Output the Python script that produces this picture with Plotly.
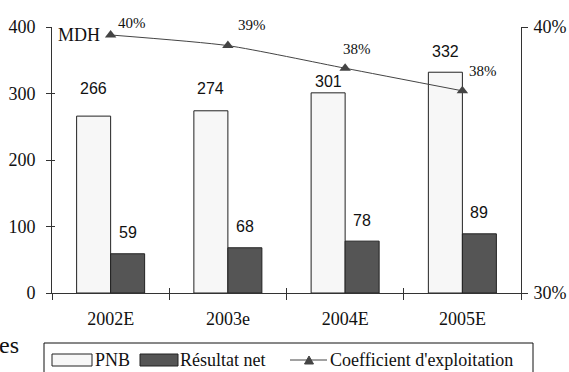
import plotly.graph_objects as go

# Data
years = ["2002E", "2003e", "2004E", "2005E"]
pnb = [266, 274, 301, 332]
resultat_net = [59, 68, 78, 89]
coef_exploitation = [39.7, 39.3, 38.45, 37.6]

# Label placement (pixels above each bar top / beside each marker)
pnb_label_lift = [28, 22, 11, 21]
res_label_lift = [21, 21, 21, 21]
pct_label_shift = [(21, 12), (24, 21), (12, 19), (21, 20)]

SERIF = "Liberation Serif, Times New Roman, serif"
SANS = "Liberation Sans, Arial, sans-serif"
INK = "#222222"
AXIS = "#333333"

W, H = 569, 372
L, R, T, B = 52, 521, 27, 293


def px(x):
    return (x - L) / (R - L)


def py(y):
    return (B - y) / (B - T)


fig = go.Figure()

fig.add_trace(go.Bar(
    x=years, y=pnb, name="PNB",
    marker=dict(color="#f7f7f7", line=dict(color=INK, width=1)),
    showlegend=False,
))
fig.add_trace(go.Bar(
    x=years, y=resultat_net, name="Résultat net",
    marker=dict(color="#555555", line=dict(color=INK, width=1)),
    showlegend=False,
))
fig.add_trace(go.Scatter(
    x=years, y=coef_exploitation, name="Coefficient d'exploitation",
    yaxis="y2", mode="lines+markers",
    line=dict(color="#444444", width=1, shape="spline", smoothing=0.6),
    marker=dict(symbol="triangle-up", size=10, color="#444444"),
    showlegend=False,
))
# Empty traces that carry the inner half of the crossing tick marks
fig.add_trace(go.Scatter(x=[None], y=[None], xaxis="x2", yaxis="y3",
                         showlegend=False, hoverinfo="skip"))
fig.add_trace(go.Scatter(x=[None], y=[None], xaxis="x2", yaxis="y4",
                         showlegend=False, hoverinfo="skip"))

annotations = []
half = 0.145
for i, v in enumerate(pnb):
    annotations.append(dict(
        x=i - half, y=v, xref="x", yref="y", text=str(v), showarrow=False,
        yanchor="middle", yshift=pnb_label_lift[i],
        font=dict(family=SANS, size=16, color="#111111"),
    ))
for i, v in enumerate(resultat_net):
    annotations.append(dict(
        x=i + half, y=v, xref="x", yref="y", text=str(v), showarrow=False,
        yanchor="middle", yshift=res_label_lift[i],
        font=dict(family=SANS, size=16, color="#111111"),
    ))
for i, v in enumerate(coef_exploitation):
    dx, dy = pct_label_shift[i]
    annotations.append(dict(
        x=i, y=v, xref="x", yref="y2", text=f"{v:.0f}%", showarrow=False,
        xanchor="center", yanchor="middle", xshift=dx, yshift=dy,
        font=dict(family=SERIF, size=15, color="#111111"),
    ))

# Unit label
annotations.append(dict(
    x=px(56), y=py(35), xref="paper", yref="paper", text="MDH",
    showarrow=False, xanchor="left", yanchor="middle",
    font=dict(family=SERIF, size=18, color="#111111"),
))

# Surrounding page text at the left edge
annotations.append(dict(
    x=px(-3), y=py(345), xref="paper", yref="paper", text="es",
    showarrow=False, xanchor="left", yanchor="middle",
    font=dict(family=SERIF, size=24, color="#111111"),
))

# Legend
shapes = [
    dict(type="rect", xref="paper", yref="paper",
         x0=px(44), x1=px(533), y0=py(378), y1=py(343),
         line=dict(color="#111111", width=1), fillcolor="rgba(0,0,0,0)"),
    dict(type="rect", xref="paper", yref="paper",
         x0=px(52), x1=px(92), y0=py(366), y1=py(354),
         line=dict(color=INK, width=1), fillcolor="#f7f7f7"),
    dict(type="rect", xref="paper", yref="paper",
         x0=px(140), x1=px(178), y0=py(366), y1=py(354),
         line=dict(color=INK, width=1), fillcolor="#555555"),
    dict(type="line", xref="paper", yref="paper",
         x0=px(290), x1=px(327), y0=py(360), y1=py(360),
         line=dict(color="#444444", width=1)),
    dict(type="path", xref="paper", yref="paper",
         path=(f"M {px(304.5)} {py(364)} L {px(313.5)} {py(364)} "
               f"L {px(309)} {py(356)} Z"),
         line=dict(color="#444444", width=1), fillcolor="#444444"),
]
for xx, label in ((93, "PNB"), (178, "Résultat net"), (328, "Coefficient d'exploitation")):
    annotations.append(dict(
        x=px(xx), y=py(360), xref="paper", yref="paper", text=label,
        showarrow=False, xanchor="left", yanchor="middle",
        font=dict(family=SERIF, size=18, color="#111111"),
    ))

hidden = dict(showticklabels=False, showgrid=False, zeroline=False,
              showline=False, tickcolor=AXIS, tickwidth=1, ticks="inside",
              automargin=False)

fig.update_layout(
    width=W, height=H,
    margin=dict(l=L, r=W - R, t=T, b=H - B, pad=0, autoexpand=False),
    paper_bgcolor="white", plot_bgcolor="white",
    barmode="group", bargap=0.42, bargroupgap=0,
    font=dict(family=SERIF, size=18, color="#111111"),
    hovermode=False,
    xaxis=dict(
        type="category", categoryorder="array", categoryarray=years,
        range=[-0.5, 3.5], showline=True, linecolor=AXIS, linewidth=1,
        ticks="outside", tickson="boundaries", ticklen=6, tickcolor=AXIS,
        tickwidth=1, showgrid=False, ticklabelstandoff=9, automargin=False,
        tickfont=dict(family=SERIF, size=18),
    ),
    xaxis2=dict(
        overlaying="x", anchor="y", side="bottom", range=[-0.5, 3.5],
        tickvals=[0.5, 1.5, 2.5], ticklen=5, **hidden,
    ),
    yaxis=dict(
        range=[0, 400], dtick=100, showline=True, linecolor=AXIS,
        linewidth=1, ticks="outside", ticklen=5, tickcolor=AXIS,
        showgrid=False, zeroline=False, ticklabelstandoff=7, automargin=False,
        tickfont=dict(family=SERIF, size=18),
    ),
    yaxis2=dict(
        overlaying="y", side="right", range=[30, 40],
        tickvals=[30, 40], ticktext=["30%", "40%"],
        showline=True, linecolor=AXIS, linewidth=1,
        ticks="outside", ticklen=6, tickcolor=AXIS, automargin=False,
        showgrid=False, zeroline=False, ticklabelstandoff=2,
        tickfont=dict(family=SERIF, size=18),
    ),
    yaxis3=dict(
        overlaying="y", anchor="x2", side="left", range=[0, 400],
        tickvals=[0, 100, 200, 300, 400], ticklen=3, **hidden,
    ),
    yaxis4=dict(
        overlaying="y", anchor="x2", side="right", range=[30, 40],
        tickvals=[30, 40], ticklen=6, **hidden,
    ),
    annotations=annotations,
    shapes=shapes,
)

fig.write_html("out.html")
